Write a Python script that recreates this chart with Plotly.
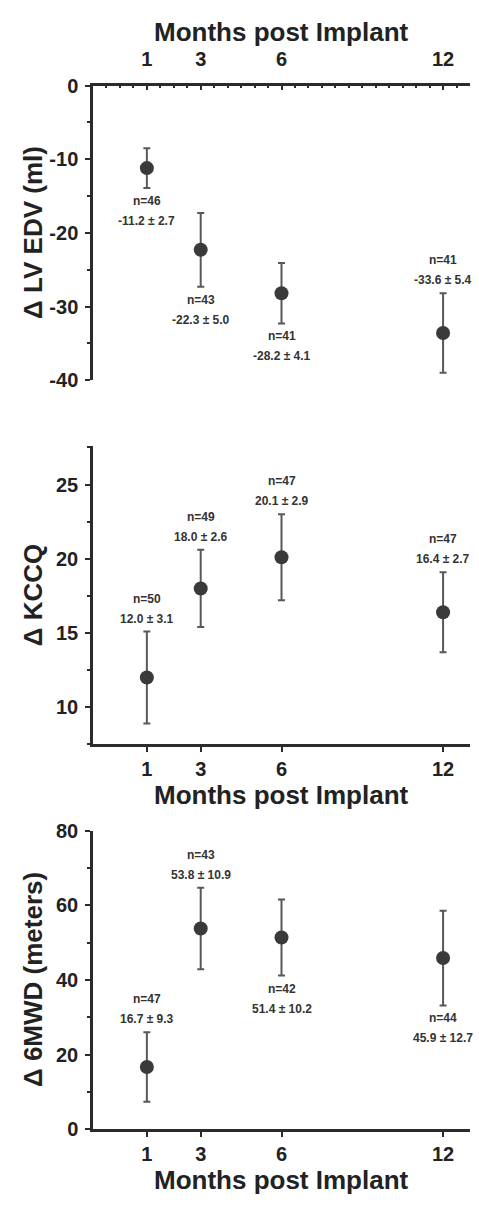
import plotly.graph_objects as go

# ---------------- data ----------------
months = [1, 3, 6, 12]
month_ticks = [1, 3, 6, 12]

lvedv_mean = [-11.2, -22.3, -28.2, -33.6]
lvedv_err = [2.7, 5.0, 4.1, 5.4]
lvedv_n = [46, 43, 41, 41]
lvedv_label_side = ["below", "below", "below", "above"]

kccq_mean = [12.0, 18.0, 20.1, 16.4]
kccq_err = [3.1, 2.6, 2.9, 2.7]
kccq_n = [50, 49, 47, 47]
kccq_label_side = ["above", "above", "above", "above"]

smwd_mean = [16.7, 53.8, 51.4, 45.9]
smwd_err = [9.3, 10.9, 10.2, 12.7]
smwd_n = [47, 43, 42, 44]
smwd_label_side = ["above", "above", "below", "below"]

lvedv_ticks = [0, -10, -20, -30, -40]
kccq_ticks = [10, 15, 20, 25]
smwd_ticks = [0, 20, 40, 60, 80]

x_title = "Months post Implant"
y_titles = ["Δ LV EDV (ml)", "Δ KCCQ", "Δ 6MWD (meters)"]

# ---------------- style ----------------
W, H = 479, 1208
FONT = "Liberation Sans, Arial, sans-serif"
AX = "#2b2b2b"
MARK = "#3a3a3a"
ERR = "#585858"
TXT = "#333333"

x_dom = [93 / W, 470 / W]
y_doms = [
    [1 - 376 / H, 1 - 76 / H],
    [1 - 747 / H, 1 - 443 / H],
    [1 - 1139 / H, 1 - 835 / H],
]

fig = go.Figure()

panels = [
    (lvedv_mean, lvedv_err, lvedv_n, lvedv_label_side),
    (kccq_mean, kccq_err, kccq_n, kccq_label_side),
    (smwd_mean, smwd_err, smwd_n, smwd_label_side),
]

annotations = []
for i, (mean, err, nn, sides) in enumerate(panels):
    sfx = "" if i == 0 else str(i + 1)
    fig.add_trace(go.Scatter(
        x=months, y=mean, mode="markers",
        marker=dict(size=14, color=MARK),
        error_y=dict(type="data", array=err, visible=True,
                     color=ERR, thickness=2, width=3.5),
        xaxis="x" + sfx, yaxis="y" + sfx, showlegend=False,
    ))
    for m, v, e, n, s in zip(months, mean, err, nn, sides):
        val_txt = f"{v:.1f} ± {e:.1f}"
        n_txt = f"n={n}"
        if s == "below":
            yb = v - e
            lines = [(n_txt, -13), (val_txt, -33)]
        else:
            yb = v + e
            lines = [(val_txt, 13), (n_txt, 33)]
        for t, sh in lines:
            annotations.append(dict(
                x=m, y=yb, xref="x" + sfx, yref="y" + sfx, text=t,
                showarrow=False, yshift=sh, yanchor="middle", xanchor="center",
                font=dict(family=FONT, size=12, color=TXT, weight="bold"),
            ))

# axis titles as text
title_font = dict(family=FONT, size=26, color="#222222", weight="bold")
for yc in (21, 799, 1191):
    annotations.append(dict(x=281.5 / W, y=1 - yc / H, xref="paper", yref="paper",
                            text=x_title, showarrow=False, font=title_font,
                            xanchor="center", yanchor="middle"))
for yt, (y0, y1) in zip(y_titles, y_doms):
    annotations.append(dict(x=33 / W, y=(y0 + y1) / 2, xref="paper", yref="paper",
                            text=yt, showarrow=False, font=title_font, textangle=-90,
                            xanchor="center", yanchor="middle"))

tick_font = dict(family=FONT, size=20, color="#222222", weight="bold")

def xaxis(anchor, side, ticks, minor, standoff):
    d = dict(
        domain=x_dom, anchor=anchor, side=side, range=[-1, 13],
        tickmode="array", tickvals=month_ticks, ticktext=[str(t) for t in month_ticks],
        ticks=ticks, ticklen=5, tickwidth=2, tickcolor=AX,
        showline=True, linecolor=AX, linewidth=2.5,
        showgrid=False, zeroline=False, tickfont=tick_font,
        ticklabelstandoff=standoff,
    )
    if minor:
        d["minor"] = dict(dtick=0.5, tick0=0, ticks="inside", ticklen=3,
                          tickwidth=1.5, tickcolor=AX, showgrid=False)
    return d

def yaxis(anchor, dom, rng, tv, mdt):
    return dict(
        domain=dom, anchor=anchor, range=rng,
        tickmode="array", tickvals=tv, ticktext=[str(t) for t in tv],
        ticks="outside", ticklen=5, tickwidth=2, tickcolor=AX,
        showline=True, linecolor=AX, linewidth=2.5,
        showgrid=False, zeroline=False, tickfont=tick_font,
        ticklabelstandoff=3,
        minor=dict(dtick=mdt, tick0=0, ticks="outside", ticklen=3,
                   tickwidth=1.5, tickcolor=AX, showgrid=False),
    )

fig.update_layout(
    width=W, height=H,
    margin=dict(l=0, r=0, t=0, b=0),
    paper_bgcolor="white", plot_bgcolor="white",
    xaxis=xaxis("y", "top", "inside", True, 9),
    xaxis2=xaxis("y2", "bottom", "outside", False, 0),
    xaxis3=xaxis("y3", "bottom", "outside", False, 0),
    yaxis=yaxis("x", y_doms[0], [-40, 0], lvedv_ticks, 5),
    yaxis2=yaxis("x2", y_doms[1], [7.5, 27.6], kccq_ticks, 2.5),
    yaxis3=yaxis("x3", y_doms[2], [0, 80], smwd_ticks, 10),
    annotations=annotations,
    font=dict(family=FONT),
)

fig.write_html("out.html")
